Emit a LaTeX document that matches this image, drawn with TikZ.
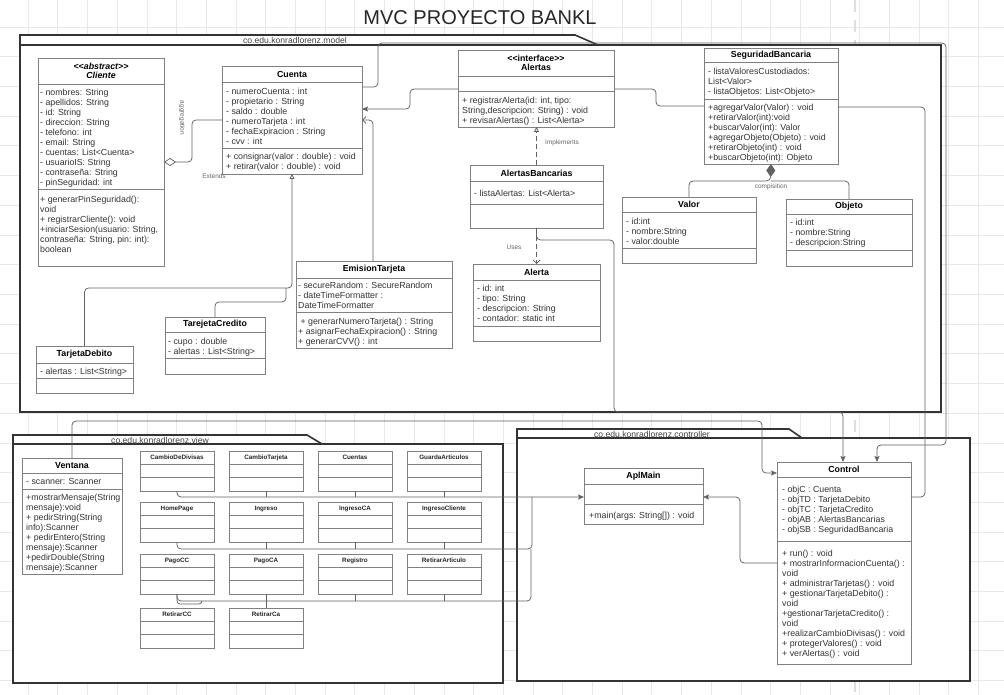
\documentclass[tikz,border=0pt]{standalone}
\usepackage{fontspec}
\setmainfont{Liberation Sans}
\usetikzlibrary{arrows.meta}
\tikzset{
  gridline/.style={black!9, line width=0.6pt},
  pagebreak/.style={black!13, line width=2.5pt, dash pattern=on 12pt off 8pt},
  pkg/.style={draw=black!80, fill=white, line width=1.6pt, line join=miter},
  pkgline/.style={draw=black!80, line width=1.4pt},
  pkglbl/.style={font=\fontsize{8.6}{10}\selectfont, text=black!75, inner sep=0pt},
  box/.style={draw=black!50, fill=white, line width=0.8pt, inner sep=0pt, outer sep=0pt, anchor=north west},
  sepl/.style={draw=black!50, line width=0.8pt},
  ttl/.style={font=\fontsize{8.8}{9.6}\selectfont\bfseries, align=center, inner sep=0pt, text=black},
  vttl/.style={font=\fontsize{6.3}{7}\selectfont\bfseries, inner sep=0pt, text=black!85},
  txt/.style={font=\fontsize{8.8}{10}\selectfont, align=left, inner sep=0pt, anchor=north west, text=black!80},
  conn/.style={draw=black!62, line width=0.75pt, rounded corners=4pt},
  fillarrow/.style={-{Stealth[length=6pt,width=5pt,inset=1.2pt]}},
  openarrow/.style={-{Straight Barb[length=3.5pt,width=7pt]}},
  hollowtri/.style={-{Triangle[open,length=5pt,width=5pt]}},
  dashedconn/.style={dash pattern=on 5pt off 3pt},
  lbl/.style={font=\fontsize{6.5}{7}\selectfont, text=black!60, inner sep=0pt},
  titlestyle/.style={font=\fontsize{20}{24}\selectfont, text=black!85, inner sep=0pt}
}
% name, x1, y1, x2, y2, sep1, sep2, title
\newcommand\uclass[8]{%
  \node[box, minimum width={(#4)-(#2)}, minimum height={(#5)-(#3)}] (#1) at (#2,#3) {};
  \draw[sepl] (#2,#6) -- (#4,#6) (#2,#7) -- (#4,#7);
  \node[ttl] (#1-t) at ({(#2+#4)/2},{(#3+#6)/2}) {#8};
}
% name, x, first baseline, text
\newcommand\ctxt[4]{\node[txt] (#1) at (#2,{#3-7}) {\strut #4};}
% name, x, y, title
\newcommand\vclass[4]{%
  \node[box, minimum width=74, minimum height=40] (#1) at (#2,#3) {};
  \draw[sepl] (#2,{#3+13}) -- ({#2+74},{#3+13}) (#2,{#3+26.5}) -- ({#2+74},{#3+26.5});
  \node[vttl] (#1-t) at ({#2+37},{#3+6.5}) {#4};
}
\begin{document}
\begin{tikzpicture}[x=1pt,y=-1pt]
\useasboundingbox (0,0) rectangle (1004,695);
\fill[white] (0,0) rectangle (1004,695);
\foreach \i in {0,...,33}{\draw[gridline] ({28+29.7*\i},0) -- ({28+29.7*\i},695);}
\foreach \i in {0,...,22}{\draw[gridline] (0,{27+29.7*\i}) -- (1004,{27+29.7*\i});}
\draw[pagebreak] (855,0) -- (855,695);

\node[titlestyle] (title) at (480,18) {MVC PROYECTO BANKL};

% packages
\draw[pkg] (20,35) -- (575,35) -- (598,45) -- (941,45) -- (941,412) -- (20,412) -- cycle;
\draw[pkgline] (20,45) -- (598,45);
\node[pkglbl] (modellbl) at (295,40.5) {co.edu.konradlorenz.model};

\draw[pkg] (13,435) -- (307,435) -- (322,444) -- (503,444) -- (503,683) -- (13,683) -- cycle;
\draw[pkgline] (13,444) -- (322,444);
\node[pkglbl] (viewlbl) at (160,440) {co.edu.konradlorenz.view};

\draw[pkg] (517,429) -- (789,429) -- (802,438) -- (970,438) -- (970,681) -- (517,681) -- cycle;
\draw[pkgline] (517,438) -- (802,438);
\node[pkglbl] (ctrllbl) at (652,434) {co.edu.konradlorenz.controller};

% classes
\uclass{cliente}{38}{58}{164}{266}{84}{189}{\itshape <\kern0pt<abstract>\kern0pt>\\\itshape Cliente}
\uclass{cuenta}{222}{66}{362}{174}{82}{148}{Cuenta}
\uclass{seguridad}{704}{48}{838}{164}{62}{99}{SeguridadBancaria}
\uclass{alertasb}{470}{165}{603}{228}{181}{204}{AlertasBancarias}
\uclass{valor}{622}{197}{756}{263}{212}{248}{Valor}
\uclass{objeto}{786}{199}{912}{266}{214}{250}{Objeto}
\uclass{alerta}{473}{264}{600}{341}{280}{326}{Alerta}
\uclass{emision}{296}{261}{452}{348}{278}{312}{EmisionTarjeta}
\uclass{tcredito}{165}{317}{265}{374}{332}{358}{TarejetaCredito}
\uclass{tdebito}{36}{346}{133}{393}{363}{378}{TarjetaDebito}
\uclass{ventana}{22}{458}{122}{574}{473}{489}{Ventana}
\uclass{control}{777}{462}{911}{664}{477}{541}{Control}
\uclass{aplmain}{584}{468}{703}{524}{484}{504}{AplMain}

% this connector runs behind the Alertas box
\draw[conn, fillarrow] (seguridad.west |- 0,106) -- (656,106) -- (656,89) -- (410,89) -- (410,109) -- (cuenta.east |- 0,109);
\uclass{alertas}{458}{50}{614}{127}{76}{91}{<\kern0pt<interface>\kern0pt>\\Alertas}

% model connectors
\draw[conn, fillarrow] (cuenta.east |- 0,87) -- (378,87) -- (378,43) -- (946,43) -- (946,445) -- (877,445) -- (control.north -| 877,0);
\draw[conn] (control.east |- 0,497) -- (925,497) -- (925,107) -- (seguridad.east |- 0,107);
\draw[conn, fillarrow] (alertasb.south) -- (536.5,240) -- (614,240) -- (614,412) -- (843,412) -- (control.north -| 843,0);
\draw[conn, dashedconn, openarrow] (alertasb.south) -- (alerta.north -| alertasb.south);
\draw[conn, dashedconn, hollowtri] (alertasb.north) -- (alertas.south -| alertasb.north);
\draw[conn, {Diamond[open,length=12pt,width=8pt]}-] (cliente.east |- 0,162) -- (192,162) -- (192,120) -- (cuenta.west |- 0,120);
\draw[conn, hollowtri] (tdebito.north) -- (84.5,288) -- (292,288) -- (cuenta.south -| 292,0);
\draw[conn] (tcredito.north) -- (215,302) -- (286,302) -- (286,288);
\draw[conn, openarrow] (emision.north -| 373,0) -- (373,120) -- (cuenta.east |- 0,120);
\draw[conn, {Diamond[length=13pt,width=9pt]}-] (seguridad.south) -- (770.5,181) -- (689,181) -- (valor.north -| 689,0);
\draw[conn] (770.5,181) -- (849,181) -- (objeto.north -| 849,0);
\draw[conn, fillarrow] (ventana.north) -- (72,421) -- (762,421) -- (762,473) -- (control.west |- 0,473);
\draw[conn, fillarrow] (control.west |- 0,563) -- (740,563) -- (740,497) -- (aplmain.east |- 0,497);

% view classes
\vclass{cambiodivisas}{140}{451}{CambioDeDivisas}
\vclass{cambiotarjeta}{229}{451}{CambioTarjeta}
\vclass{cuentas}{318}{451}{Cuentas}
\vclass{guarda}{407}{451}{GuardaArticulos}
\vclass{homepage}{140}{502}{HomePage}
\vclass{ingreso}{229}{502}{Ingreso}
\vclass{ingresoca}{318}{502}{IngresoCA}
\vclass{ingresocli}{407}{502}{IngresoCliente}
\vclass{pagocc}{140}{554}{PagoCC}
\vclass{pagoca}{229}{554}{PagoCA}
\vclass{registro}{318}{554}{Registro}
\vclass{retirarart}{407}{554}{RetirarArticulo}
\vclass{retirarcc}{140}{608}{RetirarCC}
\vclass{retirarca}{229}{608}{RetirarCa}

% view connectors
\draw[conn, fillarrow] (cambiodivisas.south) -- (177,497) -- (aplmain.west |- 0,497);
\draw[conn] (cambiotarjeta.south) -- (266,497);
\draw[conn] (cuentas.south) -- (355,497);
\draw[conn] (guarda.south) -- (444,497);
\draw[conn] (homepage.south) -- (177,549) -- (532,549) -- (532,497);
\draw[conn] (ingreso.south) -- (266,549);
\draw[conn] (ingresoca.south) -- (355,549);
\draw[conn] (ingresocli.south) -- (444,549);
\draw[conn] (pagocc.south) -- (177,601) -- (531,601) -- (531,549);
\draw[conn, rounded corners=3pt] (pagocc.south) -- (177,604) -- (202,604) -- (202,601);
\draw[conn] (pagoca.south) -- (retirarca.north);
\draw[conn] (registro.south) -- (355,601);
\draw[conn] (retirarart.south) -- (444,601);

% compartments text
\ctxt{cliente-a}{40}{95.5}{- nombres: String\\- apellidos: String\\- id: String\\- direccion: String\\- telefono: int\\- email: String\\- cuentas: List<Cuenta>\\- usuarioIS: String\\- contraseña: String\\- pinSeguridad: int}
\ctxt{cliente-m}{40}{202.6}{+ generarPinSeguridad():\\void\\+ registrarCliente(): void\\+iniciarSesion(usuario: String,\\contraseña: String, pin: int):\\boolean}
\ctxt{cuenta-a}{226}{94}{- numeroCuenta : int\\- propietario : String\\- saldo : double\\- numeroTarjeta : int\\- fechaExpiracion : String\\- cvv : int}
\ctxt{cuenta-m}{226}{159.5}{+ consignar(valor : double) : void\\+ retirar(valor : double) : void}
\ctxt{alertas-m}{462}{103.5}{+ registrarAlerta(id: int, tipo:\\String,descripcion: String) : void\\+ revisarAlertas() : List<Alerta>}
\ctxt{seguridad-a}{708}{74.3}{- listaValoresCustodiados:\\List<Valor>\\- listaObjetos: List<Objeto>}
\ctxt{seguridad-m}{708}{110.3}{+agregarValor(Valor) : void\\+retirarValor(int):void\\+buscarValor(int): Valor\\+agregarObjeto(Objeto) : void\\+retirarObjeto(int) : void\\+buscarObjeto(int): Objeto}
\ctxt{alertasb-a}{474}{196}{- listaAlertas: List<Alerta>}
\ctxt{valor-a}{626}{224}{- id:int\\- nombre:String\\- valor:double}
\ctxt{objeto-a}{790}{225.5}{- id:int\\- nombre:String\\- descripcion:String}
\ctxt{alerta-a}{477}{291.5}{- id: int\\- tipo: String\\- descripcion: String\\- contador: static int}
\ctxt{emision-a}{298}{288.5}{- secureRandom : SecureRandom\\- dateTimeFormatter :\\DateTimeFormatter}
\ctxt{emision-m}{298}{324}{\kern2.4pt+ generarNumeroTarjeta() : String\\+ asignarFechaExpiracion() : String\\+ generarCVV() : int}
\ctxt{tcredito-a}{168}{344}{- cupo : double\\- alertas : List<String>}
\ctxt{tdebito-a}{40}{374}{- alertas : List<String>}
\ctxt{ventana-a}{26}{484.3}{- scanner: Scanner}
\ctxt{ventana-m}{26}{500.6}{+mostrarMensaje(String\\mensaje):void\\+ pedirString(String\\info):Scanner\\+ pedirEntero(String\\mensaje):Scanner\\+pedirDouble(String\\mensaje):Scanner}
\ctxt{control-a}{782}{492.3}{- objC : Cuenta\\- objTD : TarjetaDebito\\- objTC : TarjetaCredito\\- objAB : AlertasBancarias\\- objSB : SeguridadBancaria}
\ctxt{control-m}{782}{556.3}{+ run() : void\\+ mostrarInformacionCuenta() :\\void\\+ administrarTarjetas() : void\\+ gestionarTarjetaDebito() :\\void\\+gestionarTarjetaCredito() :\\void\\+realizarCambioDivisas() : void\\+ protegerValores() : void\\+ verAlertas() : void}
\ctxt{aplmain-m}{589}{518.3}{+main(args: String[]) : void}

% connector labels
\node[lbl, rotate=-90] (aggl) at (182,118) {aggregation};
\node[lbl] (extl) at (214,176) {Extends};
\node[lbl] (impl) at (562,143) {Implements};
\node[lbl] (usesl) at (514,247) {Uses};
\node[lbl] (compl) at (771,187) {compisition};
\end{tikzpicture}
\end{document}
